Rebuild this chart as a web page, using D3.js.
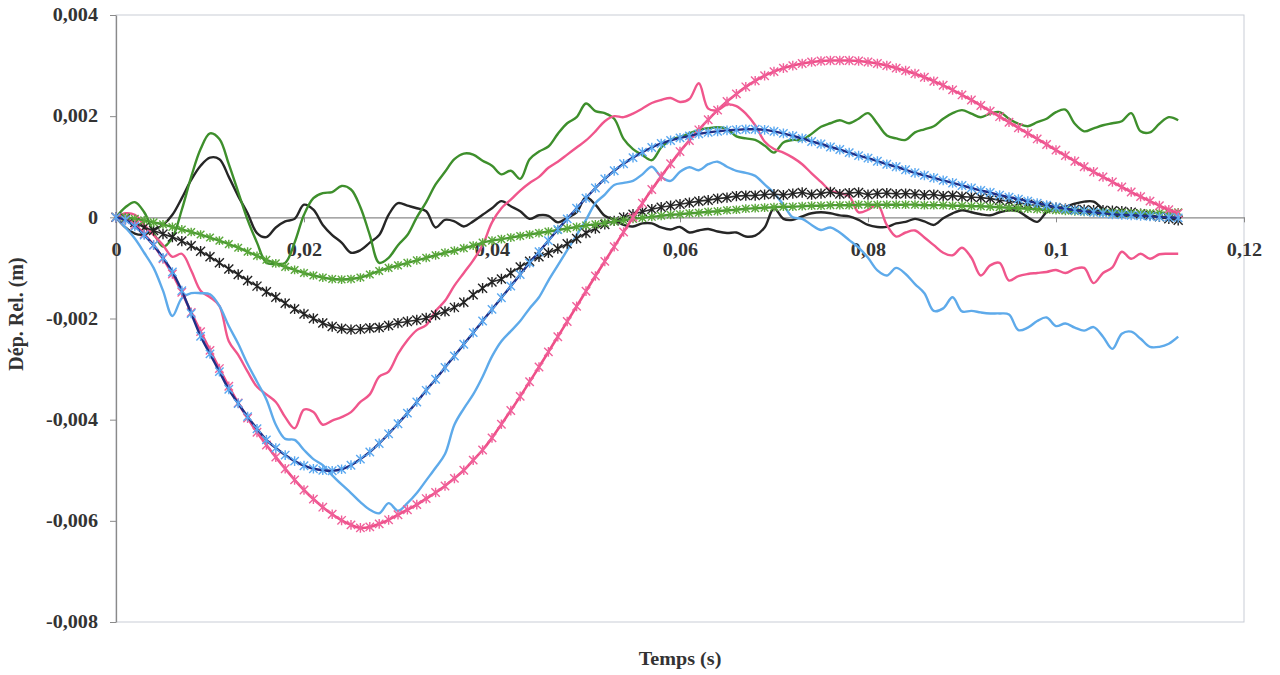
<!DOCTYPE html>
<html><head><meta charset="utf-8">
<script src="https://cdn.jsdelivr.net/npm/d3@7"></script>
<style>
body{margin:0;background:#fff}
text{font-family:"Liberation Serif","Times New Roman",serif;font-weight:bold;fill:#333}
</style>
</head><body><svg id="c" width="1280" height="675"></svg>
<script>
// sample instants (ms)
const tempsMs = [0,1,2,3,4,5,6,7,8,9,10,11,12,13,14,15,16,17,18,19,20,21,22,23,24,25,26,27,28,29,30,31,32,33,34,35,36,37,38,39,40,41,42,43,44,45,46,47,48,49,50,51,52,53,54,55,56,57,58,59,60,61,62,63,64,65,66,67,68,69,70,71,72,73,74,75,76,77,78,79,80,81,82,83,84,85,86,87,88,89,90,91,92,93,94,95,96,97,98,99,100,101,102,103,104,105,106,107,108,109,110,111,112,113];

// values in units of 1e-4 m
const noir = [0,-2.0,-3.2,-3.4,-2.5,-1.5,0.5,3.8,7.4,10.2,
 11.8,11.5,8.0,4.2,0.8,-3.1,-3.9,-2.0,-0.8,-0.3,
 2.5,1.5,-1.5,-3.5,-5.0,-7.0,-6.5,-5.0,-3.5,0.5,
 2.8,2.3,1.8,1.2,-2.0,-0.5,-0.8,-1.8,-0.8,0.5,
 1.8,3.2,2.2,1.2,-0.3,0.4,0.3,-1.0,-0.1,1.0,
 4.0,2.5,0.3,-0.5,-1.5,-1.8,-1.2,-1.2,-2.0,-2.4,
 -1.9,-3.0,-2.6,-2.3,-2.8,-3.1,-3.0,-3.8,-3.6,-2.0,
 1.8,-0.3,-0.5,0.2,0.8,1.0,0.8,0.4,0.2,-0.5,
 -1.5,-1.9,-1.9,-1.2,-0.9,-0.3,-0.8,-1.5,-0.2,0.8,
 1.4,1.0,0.6,0.4,1.0,1.4,1.2,0.0,-0.9,1.0,
 1.8,2.1,2.7,3.1,3.1,1.6,0.5,0.2,0.5,0.8,
 0.4,0.0,-0.2,-0.3];
const vert = [0,2.0,3.0,1.0,-3.0,-5.8,-4.0,1.5,8.0,13.5,
 16.6,15.5,10.5,5.0,-0.5,-5.0,-9.0,-9.2,-9.0,-5.0,
 0.5,3.8,4.8,5.0,6.2,5.5,2.0,-3.5,-9.0,-8.0,
 -5.5,-3.5,0.0,3.0,6.5,9.0,11.5,12.6,12.4,11.2,
 10.2,8.5,9.2,7.6,11.5,13.0,14.0,16.5,18.6,19.8,
 22.5,21.0,20.6,19.5,15.5,13.5,12.3,11.3,13.8,15.3,
 15.9,16.6,17.3,17.6,17.8,17.5,16.0,15.6,15.3,14.2,
 12.8,14.8,15.3,15.3,16.5,17.9,18.6,19.2,18.6,19.5,
 20.6,18.5,16.2,15.6,15.3,16.8,17.4,18.0,19.5,20.6,
 21.2,20.5,19.8,20.5,20.8,19.5,18.5,18.0,18.8,19.5,
 20.8,21.3,18.5,17.0,17.6,18.2,18.6,19.0,20.6,17.0,
 16.8,18.5,19.8,19.2];
const rose = [0,0.8,0.5,-1.5,-3.5,-5.5,-7.8,-7.2,-10.5,-14.5,
 -15.8,-17.5,-24.5,-27.2,-30.5,-33.5,-35.0,-36.5,-39.5,-41.7,
 -38.0,-38.5,-41.0,-40.2,-39.5,-38.5,-36.5,-35.0,-31.5,-30.5,
 -27.0,-24.3,-22.3,-21.3,-18.5,-16.5,-13.5,-11.0,-8.5,-5.5,
 -1.0,1.8,3.5,5.3,6.8,8.0,9.8,11.0,12.4,13.8,
 15.2,17.0,19.0,20.0,19.8,20.5,21.5,22.6,23.2,23.6,
 22.8,23.4,26.5,21.5,21.2,22.3,22.0,20.5,18.2,15.0,
 13.5,12.8,11.8,10.5,8.7,7.0,5.3,4.8,4.2,1.0,
 1.5,2.5,-1.5,-3.8,-3.0,-2.6,-4.0,-5.5,-7.0,-7.5,
 -6.0,-8.0,-11.5,-9.5,-9.0,-12.5,-11.6,-11.2,-11.0,-10.8,
 -10.4,-11.0,-10.2,-10.0,-13.0,-11.0,-9.9,-6.8,-8.2,-7.2,
 -8.2,-7.3,-7.2,-7.2];
const bleuClair = [0,-2.0,-4.2,-7.0,-10.0,-14.5,-19.5,-16.0,-15.0,-15.0,
 -15.2,-17.5,-21.5,-25.0,-29.0,-32.5,-36.0,-41.0,-43.8,-44.0,
 -46.0,-47.8,-49.0,-51.0,-52.8,-54.5,-56.3,-57.8,-58.5,-56.5,
 -58.0,-56.5,-54.5,-52.0,-49.5,-46.8,-41.0,-37.8,-35.0,-31.5,
 -27.5,-24.5,-22.5,-20.5,-18.0,-15.8,-12.5,-9.5,-6.5,-3.5,
 -0.5,2.8,4.5,6.4,6.8,7.2,8.5,10.0,8.0,7.2,
 9.0,9.9,9.3,10.5,11.0,10.0,9.2,8.8,8.2,6.5,
 4.8,2.5,0.0,-0.3,-1.5,-2.5,-2.0,-3.0,-4.5,-6.0,
 -8.0,-10.5,-11.5,-10.0,-11.2,-13.2,-15.0,-18.5,-18.0,-15.8,
 -18.6,-18.5,-18.8,-19.0,-19.0,-19.2,-22.3,-21.8,-20.5,-19.8,
 -21.5,-21.0,-21.8,-22.4,-21.7,-23.6,-26.0,-23.0,-22.6,-24.0,
 -25.6,-25.6,-25.0,-23.6];
const noirMarq = [0,-0.3,-1.0,-2.0,-2.6,-3.3,-3.9,-4.7,-5.6,-6.7,
 -7.8,-9.0,-10.2,-11.3,-12.5,-13.6,-14.7,-15.8,-17.0,-18.1,
 -19.1,-20.0,-20.9,-21.6,-22.0,-22.2,-22.1,-21.9,-21.8,-21.4,
 -20.9,-20.6,-20.3,-19.9,-19.3,-18.6,-17.8,-16.8,-15.3,-14.0,
 -12.8,-12.2,-11.0,-9.8,-8.7,-7.8,-7.0,-6.2,-5.2,-4.2,
 -3.1,-2.2,-1.4,-0.7,0.0,0.6,1.1,1.6,2.0,2.3,
 2.6,2.9,3.2,3.4,3.7,3.9,4.2,4.3,4.3,4.5,
 4.6,4.4,4.7,4.9,4.5,4.7,5.0,4.6,4.8,4.9,
 4.5,4.7,4.8,4.6,4.7,4.6,4.4,4.5,4.2,4.3,
 4.1,4.0,3.9,3.7,3.4,3.2,2.9,2.6,2.3,2.1,
 1.9,1.7,1.6,1.5,1.4,1.4,1.3,1.2,1.0,0.7,
 0.4,0.1,-0.3,-0.6];
const vertMarq = [0,0.0,-0.3,-0.6,-1.0,-1.4,-1.9,-2.4,-2.9,-3.4,
 -4.0,-4.6,-5.3,-6.0,-6.8,-7.6,-8.4,-9.1,-9.8,-10.4,
 -11.0,-11.5,-11.9,-12.2,-12.3,-12.2,-11.9,-11.3,-10.6,-10.0,
 -9.5,-9.0,-8.5,-8.0,-7.5,-7.0,-6.6,-6.1,-5.6,-5.0,
 -4.6,-4.3,-4.0,-3.7,-3.4,-3.1,-2.8,-2.5,-2.2,-1.9,
 -1.6,-1.4,-1.1,-0.8,-0.6,-0.3,-0.1,0.1,0.3,0.5,
 0.6,0.8,0.9,1.1,1.2,1.4,1.5,1.7,1.8,1.9,
 2.0,2.1,2.1,2.2,2.3,2.3,2.4,2.4,2.4,2.5,
 2.5,2.5,2.5,2.5,2.5,2.5,2.4,2.4,2.4,2.3,
 2.3,2.2,2.2,2.1,2.0,1.9,1.8,1.7,1.6,1.5,
 1.4,1.3,1.2,1.1,1.0,1.0,0.9,0.9,0.8,0.8,
 0.8,0.9,0.9,1.0];
const roseMarq = [0,-0.5,-1.5,-3.3,-5.5,-8.2,-11.2,-14.8,-18.8,-22.6,
 -26.3,-29.9,-33.4,-36.7,-39.7,-42.5,-45.0,-47.4,-49.7,-51.9,
 -53.9,-55.7,-57.3,-58.7,-59.9,-60.8,-61.4,-61.2,-60.6,-59.8,
 -58.8,-57.8,-56.8,-55.6,-54.4,-53.1,-51.6,-50.0,-48.0,-46.0,
 -43.6,-40.9,-38.2,-35.4,-32.5,-29.6,-26.6,-23.6,-20.6,-17.6,
 -14.6,-11.6,-8.7,-5.8,-2.9,0,2.8,5.5,8.1,10.6,
 13.0,15.2,17.3,19.3,21.2,22.9,24.4,25.8,27.0,28.0,
 28.8,29.5,30.0,30.4,30.7,30.9,31.0,31.0,31.0,30.9,
 30.7,30.4,30.0,29.5,29.0,28.4,27.7,26.9,26.1,25.2,
 24.2,23.2,22.1,21.0,19.9,18.8,17.7,16.6,15.5,14.4,
 13.3,12.2,11.1,10.0,9.0,8.0,7.0,6.0,5.0,4.1,
 3.2,2.3,1.5,0.8];
const bleuMarq = [0,-0.5,-1.8,-3.5,-5.5,-8,-10.8,-14.5,-19,-23.5,
 -27,-30.5,-34,-36.8,-39.4,-41.8,-44,-45.6,-47,-48.2,
 -49.1,-49.7,-50.0,-50.1,-49.8,-49.0,-47.8,-46.4,-44.7,-42.8,
 -40.8,-38.7,-36.5,-34.2,-32.0,-29.7,-27.4,-25.1,-22.8,-20.5,
 -18.2,-15.9,-13.6,-11.3,-9.0,-6.8,-4.6,-2.4,-0.3,1.8,
 3.8,5.8,7.6,9.2,10.6,11.8,12.9,13.8,14.6,15.2,
 15.7,16.1,16.5,16.8,17.0,17.2,17.3,17.4,17.4,17.3,
 17.0,16.6,16.1,15.6,15.0,14.5,13.9,13.4,12.8,12.2,
 11.7,11.1,10.5,10.0,9.4,8.8,8.3,7.8,7.3,6.8,
 6.3,5.8,5.3,4.9,4.4,4.0,3.6,3.2,2.8,2.4,
 2.0,1.7,1.4,1.2,1.0,0.8,0.6,0.5,0.4,0.3,
 0.2,0.1,0.0,-0.1];

const xTickValues = [0,0.02,0.04,0.06,0.08,0.1,0.12];
const xTickLabels = ["0","0,02","0,04","0,06","0,08","0,1","0,12"];
const yTickValues = [0.004,0.002,0,-0.002,-0.004,-0.006,-0.008];
const yTickLabels = ["0,004","0,002","0","-0,002","-0,004","-0,006","-0,008"];
const xTitle = "Temps (s)";
const yTitle = "Dép. Rel. (m)";

const series = [
  {v: noir, color:"#262626", w:2.4},
  {v: vert, color:"#3e8f2c", w:2.4},
  {v: rose, color:"#f0568c", w:2.4},
  {v: bleuClair, color:"#5eaaea", w:2.4},
  {v: noirMarq, color:"#2a2a2a", w:1.6, marker:"#222", ms:4.5},
  {v: vertMarq, color:"#4c9a32", w:2.4, marker:"#5aa83a", ms:3.8},
  {v: roseMarq, color:"#ee4f88", w:2.6, marker:"#f0609a", ms:4.2},
  {v: bleuMarq, color:"#1f2f86", w:2.4, marker:"#5aa8f0", ms:4.2}
];

const svg = d3.select("#c");
const x = d3.scaleLinear().domain([0,0.12]).range([116,1244]);
const y = d3.scaleLinear().domain([-0.008,0.004]).range([622,15]);
const SX = 1.12;

// plot frame
svg.append("rect").attr("x",x(0)).attr("y",y(0.004)).attr("width",x(0.12)-x(0)).attr("height",y(-0.008)-y(0.004))
  .attr("fill","none").attr("stroke","#c9cdd6").attr("stroke-width",1);

// y axis
const yAxis = svg.append("g").attr("transform",`translate(${x(0)},0)`)
  .call(d3.axisLeft(y).tickValues(yTickValues).tickFormat((d,i)=>yTickLabels[i]).tickSize(6).tickSizeOuter(0).tickPadding(12));
yAxis.select(".domain").attr("stroke","#8a8a8a").attr("stroke-width",1.3);
yAxis.selectAll(".tick line").attr("stroke","#8a8a8a");
yAxis.selectAll("text").attr("font-size",18).attr("font-family",null).attr("fill","#333")
  .attr("x",-18/SX).attr("transform",`scale(${SX},1)`);

// x axis at y=0
const xAxis = svg.append("g").attr("transform",`translate(0,${y(0)})`)
  .call(d3.axisBottom(x).tickValues(xTickValues).tickFormat((d,i)=>xTickLabels[i]).tickSize(5).tickSizeOuter(0).tickPadding(21));
xAxis.select(".domain").attr("stroke","#8a8a8a").attr("stroke-width",1.2);
xAxis.selectAll(".tick line").attr("stroke","#8a8a8a");
xAxis.selectAll("text").attr("font-size",18).attr("font-family",null).attr("fill","#333")
  .attr("x",0).attr("transform",`scale(${SX},1)`);

// titles
svg.append("text").attr("transform",`translate(680,665) scale(${SX},1)`).attr("text-anchor","middle")
  .attr("font-size",18).text(xTitle);
svg.append("text").attr("transform","translate(23,314) rotate(-90)").attr("text-anchor","middle")
  .attr("font-size",20).text(yTitle);

// series
const line = d3.line().x(d=>x(d.t)).y(d=>y(d.v)).curve(d3.curveCatmullRom.alpha(0.5));
const g = svg.append("g");
series.forEach(s=>{
  const data = tempsMs.map((t,i)=>({t:t/1000, v:s.v[i]*1e-4}));
  g.append("path").attr("d",line(data)).attr("fill","none").attr("stroke",s.color)
    .attr("stroke-width",s.w).attr("stroke-linejoin","round");
  if(s.marker){
    const r=s.ms;
    const star=`M${-r},${-r}L${r},${r}M${-r},${r}L${r},${-r}M0,${-r*1.15}L0,${r*1.15}`;
    g.append("g").selectAll("path").data(data).join("path")
      .attr("transform",d=>`translate(${x(d.t)},${y(d.v)})`)
      .attr("d",star).attr("fill","none").attr("stroke",s.marker).attr("stroke-width",1.4);
  }
});
</script>
</body></html>
